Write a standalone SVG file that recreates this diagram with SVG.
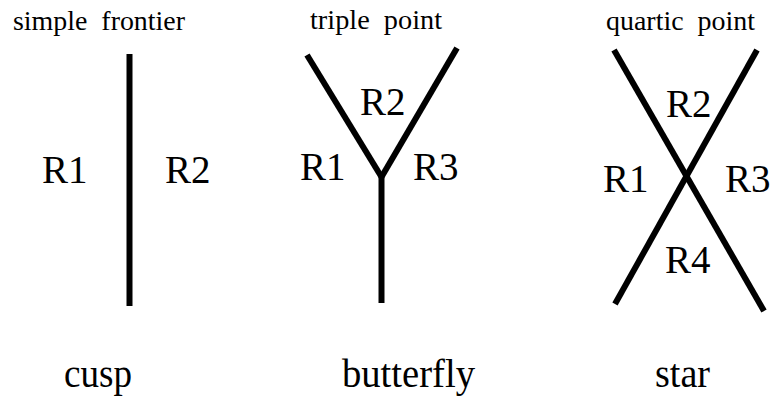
<svg xmlns="http://www.w3.org/2000/svg" width="776" height="407" viewBox="0 0 776 407">
<style>
text{font-family:'Liberation Serif',Tinos,'Nimbus Roman','Nimbus Roman No9 L','Noto Serif','DejaVu Serif',FreeSerif,'Times New Roman',Times,serif;fill:#000}
.top{font-size:28px}
.reg{font-size:39px}
.name{font-size:41px}
.ln{stroke:#000;stroke-width:6;fill:none;stroke-linecap:butt}
</style>
<rect width="776" height="407" fill="#fff"/>
<g id="connectors">
<line class="ln" x1="129.5" y1="54" x2="129.5" y2="306"/>
<line class="ln" x1="307" y1="55" x2="381.5" y2="177"/>
<line class="ln" x1="457" y1="48" x2="381.5" y2="177"/>
<line class="ln" x1="381.5" y1="175" x2="381.5" y2="303"/>
<line class="ln" x1="614" y1="50" x2="764" y2="311"/>
<line class="ln" x1="757" y1="50" x2="615" y2="304"/>
</g>
<g id="cusp">
<text class="top" x="13" y="30" textLength="172" lengthAdjust="spacingAndGlyphs">simple&#160;&#160;frontier</text>
<text class="reg" x="42" y="183">R1</text>
<text class="reg" x="165" y="183">R2</text>
<text class="name" x="64" y="387" textLength="68" lengthAdjust="spacingAndGlyphs">cusp</text>
</g>
<g id="butterfly">
<text class="top" x="310" y="29" textLength="132" lengthAdjust="spacingAndGlyphs">triple&#160;&#160;point</text>
<text class="reg" x="360" y="115">R2</text>
<text class="reg" x="300" y="180">R1</text>
<text class="reg" x="413" y="180">R3</text>
<text class="name" x="342" y="387" textLength="133" lengthAdjust="spacingAndGlyphs">butterfly</text>
</g>
<g id="star">
<text class="top" x="606" y="30" textLength="149" lengthAdjust="spacingAndGlyphs">quartic&#160;&#160;point</text>
<text class="reg" x="666" y="117">R2</text>
<text class="reg" x="603" y="192">R1</text>
<text class="reg" x="725" y="192">R3</text>
<text class="reg" x="665" y="273">R4</text>
<text class="name" x="655" y="387" textLength="55" lengthAdjust="spacingAndGlyphs">star</text>
</g>
</svg>
